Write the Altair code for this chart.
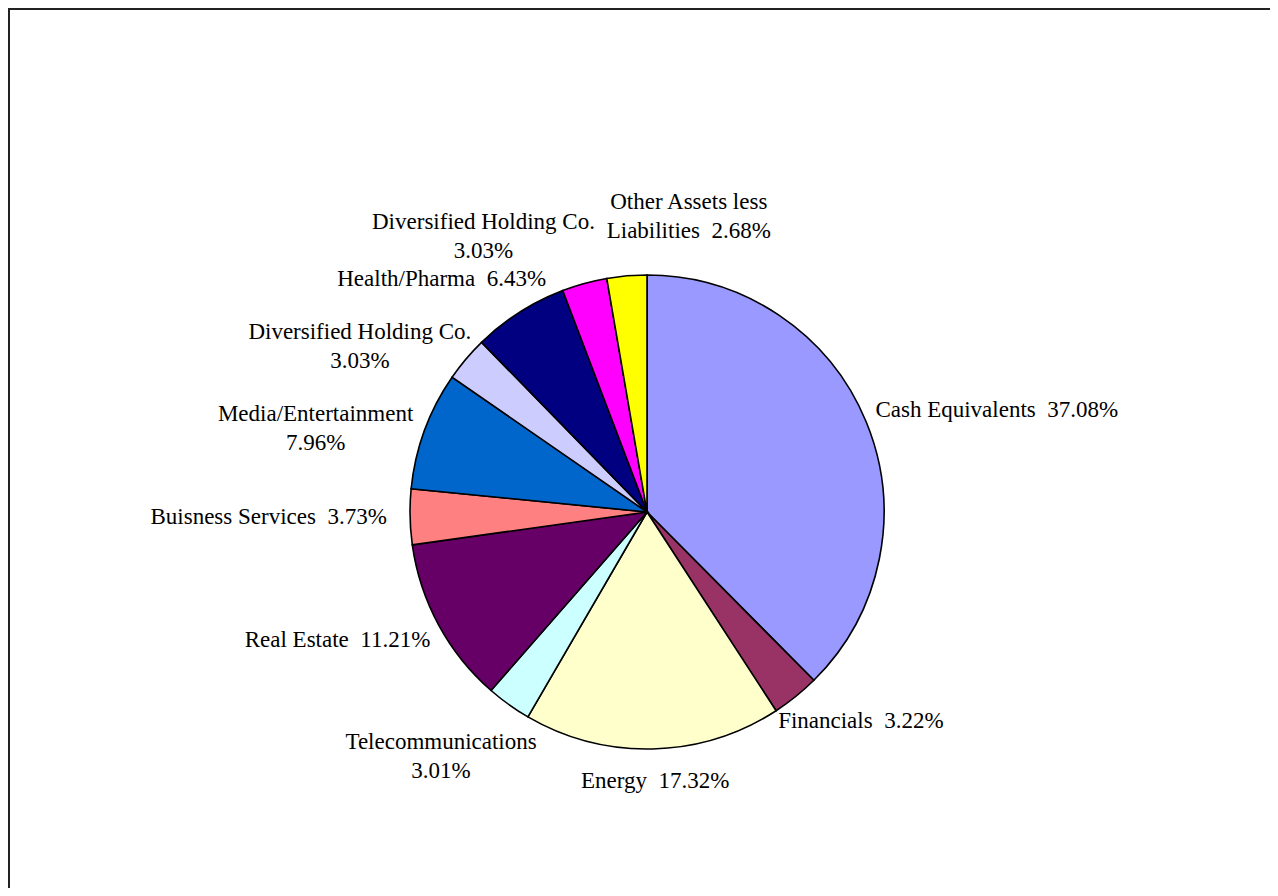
import math
import pandas as pd
import altair as alt

# ---- data ----
categories = ["Cash Equivalents", "Financials", "Energy", "Telecommunications",
              "Real Estate", "Buisness Services", "Media/Entertainment",
              "Diversified Holding Co.", "Health/Pharma", "Diversified Holding Co.",
              "Other Assets less Liabilities"]
shares = [37.08, 3.22, 17.32, 3.01, 11.21, 3.73, 7.96, 3.03, 6.43, 3.03, 2.68]
label_texts = ["Cash Equivalents\u00a0 37.08%", "Financials\u00a0 3.22%", "Energy\u00a0 17.32%",
               "Telecommunications\n3.01%", "Real Estate\u00a0 11.21%",
               "Buisness Services\u00a0 3.73%", "Media/Entertainment\n7.96%",
               "Diversified Holding Co.\n3.03%", "Health/Pharma\u00a0 6.43%",
               "Diversified Holding Co.\n3.03%", "Other Assets less\nLiabilities\u00a0 2.68%"]
colors = ["#9999FF", "#993366", "#FFFFCC", "#CCFFFF", "#660066", "#FF8080",
          "#0066CC", "#CCCCFF", "#000080", "#FF00FF", "#FFFF00"]

# ---- layout constants ----
FONT = "Liberation Serif"
FONT_SIZE = 23
LINE_H = 29
PIE_R = 237
LABEL_R = 256          # distance from pie centre to the near edge of a label box
CX, CY = 639, 504      # pie centre inside the plot area
W, H = 1262, 880

total = sum(shares)
n = len(shares)


def char_em(c):
    if c in " \u00a0.,":
        return 0.25
    if c in "ilt/fjI":
        return 0.28
    if c == "r":
        return 0.333
    if c == "%":
        return 0.833
    if c in "mM":
        return 0.8
    if c.isdigit():
        return 0.5
    if c.isupper():
        return 0.68
    return 0.46


def text_size(s):
    lines = s.split("\n")
    w = max(sum(char_em(c) for c in ln) for ln in lines) * FONT_SIZE
    h = 26 + LINE_H * (len(lines) - 1)
    return w, h


sizes = [text_size(s) for s in label_texts]
mids = []
cum = 0.0
for v in shares:
    mids.append((cum + v / 2) / total * 360)
    cum += v

ext = [0.0] * n


def centre(i, a):
    w, h = sizes[i]
    r = math.radians(a)
    rr = LABEL_R + ext[i]
    return (rr + w / 2) * math.sin(r), -(rr + h / 2) * math.cos(r)


def box(i, a, pad=6):
    x, y = centre(i, a)
    w, h = sizes[i]
    return x - w / 2 - pad, y - h / 2 - pad, x + w / 2 + pad, y + h / 2 + pad


def overlap(b1, b2):
    return not (b1[2] <= b2[0] or b2[2] <= b1[0] or b1[3] <= b2[1] or b2[3] <= b1[1])


# simple collision resolution: overlapping labels are spread apart and pushed outward
ang = mids[:]
for _ in range(4000):
    moved = False
    for i in range(n):
        for j in range(i + 1, n):
            if overlap(box(i, ang[i]), box(j, ang[j])):
                ang[i] -= 0.1
                ang[j] += 0.1
                ext[i] += 0.25
                ext[j] += 0.25
                moved = True
    if not moved:
        break

lab_theta, lab_r = [], []
for i in range(n):
    x, y = centre(i, ang[i])
    lab_theta.append((math.degrees(math.atan2(x, -y)) % 360) / 360 * total)
    lab_r.append(math.hypot(x, y))

keys = [f"s{i}" for i in range(n)]
df = pd.DataFrame({
    "key": keys,
    "idx": list(range(n)),
    "category": categories,
    "share": shares,
    "label": label_texts,
    "lth": lab_theta,
    "lr": lab_r,
})

theta_scale = alt.Scale(domain=[0, total])

base = alt.Chart(df)

pie = base.mark_arc(outerRadius=PIE_R, stroke="black", strokeWidth=1.6).encode(
    theta=alt.Theta("share:Q", stack=True, scale=theta_scale),
    color=alt.Color("key:N", scale=alt.Scale(domain=keys, range=colors), legend=None),
    order=alt.Order("idx:Q"),
    x=alt.value(CX),
    y=alt.value(CY),
)

labels = base.mark_text(font=FONT, fontSize=FONT_SIZE, lineHeight=LINE_H, lineBreak="\n",
                        align="center", baseline="middle", color="black").encode(
    theta=alt.Theta("lth:Q", stack=None, scale=theta_scale),
    radius=alt.Radius("lr:Q", scale=None),
    text="label:N",
    x=alt.value(CX),
    y=alt.value(CY),
)

frame_df = pd.DataFrame({"a": [0]})
top_rule = alt.Chart(frame_df).mark_rule(color="#222222", strokeWidth=2).encode(
    x=alt.value(0), x2=alt.value(W), y=alt.value(1))
left_rule = alt.Chart(frame_df).mark_rule(color="#222222", strokeWidth=2).encode(
    x=alt.value(1), y=alt.value(0), y2=alt.value(H))

chart = alt.layer(pie, labels, top_rule, left_rule).properties(
    width=W, height=H,
    padding=0,
    autosize="none",
    background="white",
).configure_view(stroke=None)

chart.save("out.html", embed_options={"renderer": "svg", "actions": False})
